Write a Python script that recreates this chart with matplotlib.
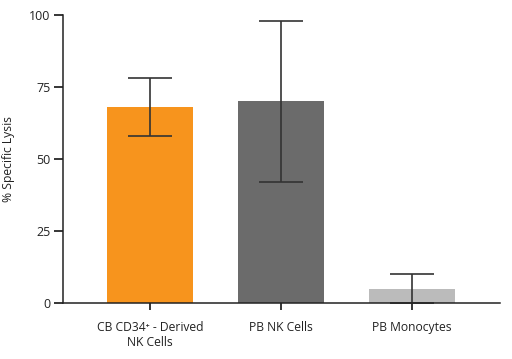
import matplotlib
matplotlib.use("Agg")
import matplotlib.pyplot as plt

plt.rcParams['font.family'] = ['Open Sans', 'DejaVu Sans']

# data
categories = ["CB CD34\u207a - Derived\nNK Cells", "PB NK Cells", "PB Monocytes"]
lysis = [68, 70, 5]
errors = [10, 28, 5]
colors = ["#F7941D", "#6B6B6B", "#BBBBBB"]

fig = plt.figure(figsize=(5.12, 3.59), dpi=100)
ax = fig.add_axes([63 / 512, 56 / 359, 437 / 512, 288 / 359])

x = list(range(len(categories)))
ax.bar(x, lysis, width=0.65, color=colors, zorder=1)
ax.errorbar(x, lysis, yerr=errors, fmt="none", ecolor="#333333",
            elinewidth=1.2, capsize=15.8, capthick=1.2, zorder=2)

ax.set_xlim(-0.664, 2.672)
ax.set_ylim(0, 100)
ax.set_yticks([0, 25, 50, 75, 100])
ax.set_xticks(x)
ax.set_xticklabels(categories, fontsize=8.7, color="#222222")
ax.tick_params(axis="y", labelsize=9, labelcolor="#222222", length=6.5, width=1.1, pad=2.5)
ax.tick_params(axis="x", length=5, width=1.1, pad=8)
ax.set_ylabel("% Specific Lysis", fontsize=8.7, color="#222222", labelpad=10)

for s in ["top", "right"]:
    ax.spines[s].set_visible(False)
for s in ["left", "bottom"]:
    ax.spines[s].set_linewidth(1.1)
    ax.spines[s].set_color("#222222")

fig.savefig("out.png", dpi=100)
